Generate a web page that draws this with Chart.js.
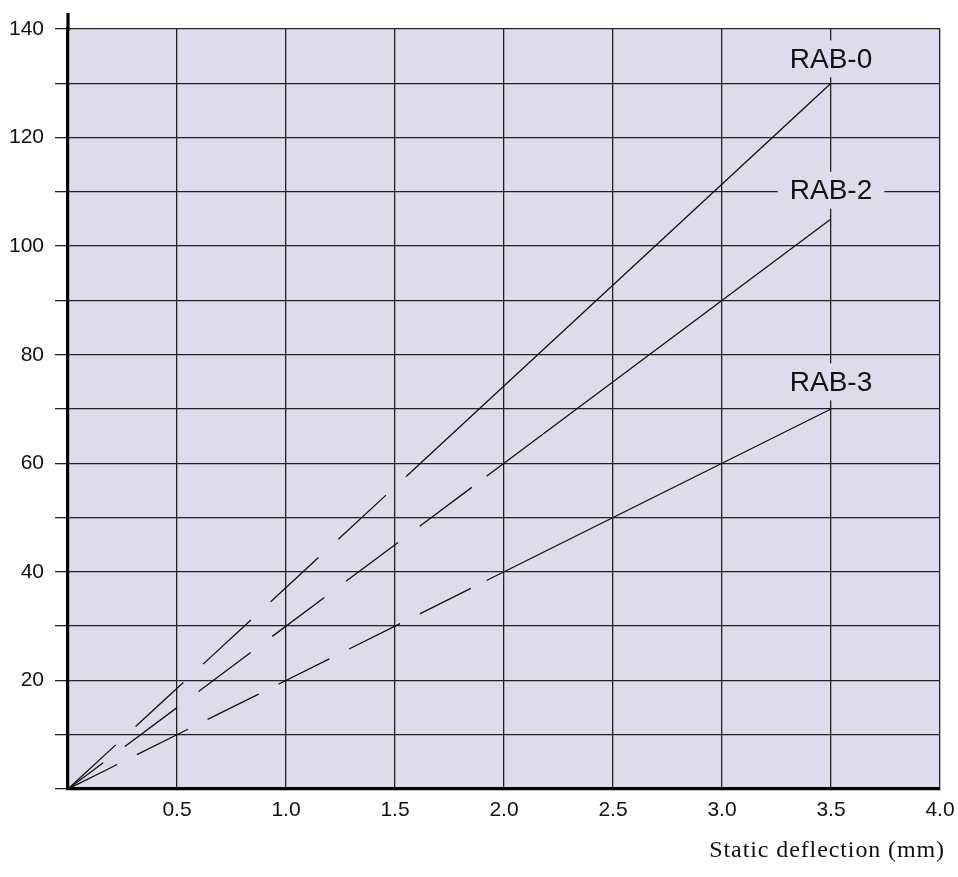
<!DOCTYPE html>
<html>
<head>
<meta charset="utf-8">
<script src="https://cdn.jsdelivr.net/npm/chart.js@4.4.1/dist/chart.umd.min.js"></script>
<style>
html,body{margin:0;padding:0;background:#fff;}
canvas{display:block;}
</style>
</head>
<body>
<canvas id="c" width="958" height="877"></canvas>
<script>
// Data
const seriesNames = ['RAB-0', 'RAB-2', 'RAB-3'];
const rab0X = [0, 1.555, 3.5];
const rab0Y = [0, 57.7, 130];
const rab2X = [0, 1.92, 3.5];
const rab2Y = [0, 57.6, 105];
const rab3X = [0, 1.92, 3.5];
const rab3Y = [0, 38.4, 70];
// x value where each line changes from dashed to solid
const solidFrom = [1.555, 1.92, 1.92];
// label anchor values (x, y) in data units
const labelX = [3.5, 3.5, 3.5];
const labelY = [134.5, 110.3, 75];
const xTicks = [0, 0.5, 1.0, 1.5, 2.0, 2.5, 3.0, 3.5, 4.0];
const yTicks = [0, 10, 20, 30, 40, 50, 60, 70, 80, 90, 100, 110, 120, 130, 140];
const xTitle = 'Static deflection (mm)';

const BG = '#dcdcec';
const INK = '#111111';

function pts(xs, ys){ return xs.map((x,i)=>({x:x, y:ys[i]})); }

const dashes = [[65,27],[65,27],[57,22]];
const dashOffsets = [0, 21, 2];
const allX = [rab0X, rab2X, rab3X];
const allY = [rab0Y, rab2Y, rab3Y];

const datasets = seriesNames.map((name, i) => ({
  label: name,
  data: pts(allX[i], allY[i]),
  borderColor: INK,
  borderWidth: 1.3,
  pointRadius: 0,
  fill: false,
  tension: 0,
  borderDashOffset: dashOffsets[i],
  segment: {
    borderDash: ctx => ctx.p0.parsed.x < solidFrom[i] - 1e-6 ? dashes[i] : [],
  }
}));

const decor = {
  id: 'decor',
  beforeDraw(chart){
    const {ctx, chartArea:a} = chart;
    ctx.save();
    ctx.fillStyle = BG;
    ctx.fillRect(a.left, a.top, a.right - a.left, a.bottom - a.top);
    ctx.restore();
  },
  afterDatasetsDraw(chart){
    const {ctx, chartArea:a, scales} = chart;
    ctx.save();
    // labels with background boxes
    ctx.font = '28px "Liberation Sans", Arial, sans-serif';
    ctx.textAlign = 'center';
    ctx.textBaseline = 'middle';
    seriesNames.forEach((name, i) => {
      const px = scales.x.getPixelForValue(labelX[i]);
      const py = scales.y.getPixelForValue(labelY[i]);
      const w = ctx.measureText(name).width + 24;
      const h = 37;
      ctx.fillStyle = BG;
      ctx.fillRect(px - w/2, py - h/2, w, h);
      ctx.fillStyle = INK;
      ctx.fillText(name, px, py + 1);
    });
    // extend left axis above the plot
    ctx.strokeStyle = '#000';
    ctx.lineWidth = 3.2;
    ctx.beginPath();
    ctx.moveTo(a.left, 13);
    ctx.lineTo(a.left, a.top + 2);
    ctx.stroke();
    // x axis title
    ctx.font = '24px "Liberation Serif", "Times New Roman", serif';
    try { ctx.letterSpacing = '0.9px'; } catch(e) {}
    ctx.textAlign = 'right';
    ctx.textBaseline = 'alphabetic';
    ctx.fillStyle = INK;
    ctx.fillText(xTitle, 945, 857);
    ctx.restore();
  }
};

new Chart(document.getElementById('c'), {
  type: 'line',
  data: { datasets },
  options: {
    responsive: false,
    animation: false,
    devicePixelRatio: 1,
    layout: { padding: { top: 29, right: 18, bottom: 0, left: 0 } },
    plugins: { legend: { display: false }, tooltip: { enabled: false } },
    scales: {
      x: {
        type: 'linear',
        min: 0, max: 4,
        afterBuildTicks: s => { s.ticks = xTicks.map(v => ({value: v})); },
        afterFit: s => { s.height = 88; s.paddingLeft = 0; s.paddingRight = 0; },
        border: { display: true, color: '#000', width: 3.2 },
        grid: { color: '#222', lineWidth: 1.3, drawTicks: false },
        ticks: {
          padding: 9,
          color: INK,
          font: { family: '"Liberation Sans", Arial, sans-serif', size: 21 },
          callback: v => v === 0 ? '' : Number(v).toFixed(1),
          maxRotation: 0,
          autoSkip: false
        }
      },
      y: {
        type: 'linear',
        min: 0, max: 140,
        afterBuildTicks: s => { s.ticks = yTicks.map(v => ({value: v})); },
        afterFit: s => { s.width = 68; s.paddingTop = 0; s.paddingBottom = 0; },
        border: { display: true, color: '#000', width: 3.2 },
        grid: { color: '#222', lineWidth: 1.3, drawTicks: true, tickLength: 13, tickColor: '#222' },
        ticks: {
          padding: 11,
          color: INK,
          font: { family: '"Liberation Sans", Arial, sans-serif', size: 21 },
          callback: v => (v === 0 || v % 20 !== 0) ? '' : String(v),
          autoSkip: false
        }
      }
    }
  },
  plugins: [decor]
});
</script>
</body>
</html>
